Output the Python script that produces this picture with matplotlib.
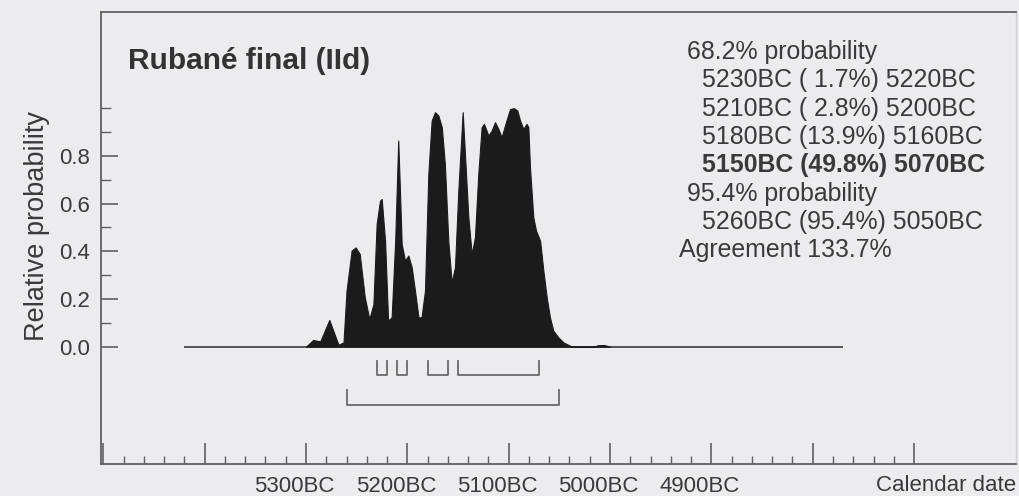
import matplotlib
matplotlib.use("Agg")
import matplotlib.pyplot as plt
import matplotlib.transforms as mtransforms
from matplotlib.ticker import FixedLocator, FixedFormatter

plt.rcParams['font.family'] = ['Liberation Sans', 'DejaVu Sans']

# ---------------- data ----------------
title = "Rubané final (IId)"
years_bc = [5300, 5299, 5293, 5286, 5277, 5268, 5263, 5260, 5255, 5251, 5247, 5242,
            5237.5, 5233.5, 5230.3, 5227, 5225.3, 5222, 5219, 5215.5, 5212, 5209,
            5207.3, 5205.6, 5202.3, 5199, 5195.7, 5192.5, 5189, 5186, 5182.6, 5179.3,
            5176, 5172.7, 5169.4, 5166, 5163, 5159.6, 5156.3, 5153, 5149.7, 5145.4,
            5143, 5139.8, 5136.5, 5133.3, 5130, 5126.7, 5124.4, 5120, 5116.8, 5113.5,
            5110.2, 5107, 5103.7, 5098.7, 5094.8, 5091.5, 5088.8, 5085.6, 5082.3,
            5080.6, 5079, 5075.7, 5073, 5069, 5065.8, 5062.5, 5059.3, 5056, 5051,
            5046, 5039.5, 5038, 5016, 5012, 5006, 5000]
probability = [0.0, 0.004, 0.028, 0.022, 0.112, 0.008, 0.018, 0.235, 0.403, 0.416, 0.389, 0.207,
               0.116, 0.179, 0.514, 0.612, 0.619, 0.444, 0.109, 0.123, 0.444, 0.864,
               0.654, 0.430, 0.361, 0.382, 0.333, 0.235, 0.123, 0.123, 0.235, 0.724,
               0.948, 0.983, 0.969, 0.920, 0.766, 0.444, 0.270, 0.333, 0.654, 0.983,
               0.794, 0.542, 0.389, 0.458, 0.724, 0.920, 0.934, 0.885, 0.906, 0.941,
               0.913, 0.878, 0.927, 0.996, 1.0, 0.99, 0.948, 0.913, 0.934,
               0.920, 0.752, 0.542, 0.486, 0.444, 0.319, 0.207, 0.123, 0.067, 0.039,
               0.018, 0.004, 0.0, 0.0, 0.006, 0.007, 0.0]
plot_range_bc = [5420, 4770]

ranges_68 = [(5230, 5220), (5210, 5200), (5180, 5160), (5150, 5070)]
pct_68 = [1.7, 2.8, 13.9, 49.8]
ranges_95 = [(5260, 5050)]
pct_95 = [95.4]
agreement = 133.7

x_major = [5500, 5400, 5300, 5200, 5100, 5000, 4900, 4800, 4700]
x_labels = ["", "", "5300BC", "5200BC", "5100BC", "5000BC", "4900BC", "", ""]
y_major = [0.0, 0.2, 0.4, 0.6, 0.8]
y_labels = ["0.0", "0.2", "0.4", "0.6", "0.8"]
y_minor = [0.1, 0.3, 0.5, 0.7, 0.9, 1.0]

# ---------------- style ----------------
W, H, DPI = 1020, 496, 100
bg = "#ececef"
ink = "#3a3a3a"
spine_c = "#606060"
fill_c = "#1b1b1b"

fig = plt.figure(figsize=(W / DPI, H / DPI), dpi=DPI, facecolor=bg)
L, R, T, B = 101, 1016, 12, 464
ax = fig.add_axes([L / W, 1 - B / H, (R - L) / W, (B - T) / H], facecolor=bg)

ax.set_xlim(5502.3, 4599.4)
ax.set_ylim(-0.492, 1.403)

# baseline and density
ax.plot(plot_range_bc, [0, 0], color="#555555", lw=1.4, solid_capstyle="butt", zorder=2)
ax.fill_between(years_bc, probability, 0, color=fill_c, lw=0.8, edgecolor=fill_c, zorder=3)

# range brackets
br_c = "#6a6a6a"
for (a, b) in ranges_68:
    ax.plot([a, a, b, b], [-0.060, -0.119, -0.119, -0.060], color=br_c, lw=1.3, zorder=2)
for (a, b) in ranges_95:
    ax.plot([a, a, b, b], [-0.182, -0.244, -0.244, -0.182], color=br_c, lw=1.3, zorder=2)

# ticks
ax.xaxis.set_major_locator(FixedLocator(x_major))
ax.xaxis.set_major_formatter(FixedFormatter(x_labels))
ax.xaxis.set_minor_locator(FixedLocator([y for y in range(5500, 4690, -20) if y % 100 != 0]))
ax.yaxis.set_major_locator(FixedLocator(y_major))
ax.yaxis.set_major_formatter(FixedFormatter(y_labels))
ax.yaxis.set_minor_locator(FixedLocator(y_minor))

ax.tick_params(axis="x", which="major", direction="in", length=15, width=1.2,
               color=spine_c, labelsize=16, labelcolor=ink, pad=9)
ax.tick_params(axis="x", which="minor", direction="in", length=5.5, width=1.0, color=spine_c)
ax.tick_params(axis="y", which="major", direction="in", length=12, width=1.2,
               color=spine_c, labelsize=16, labelcolor=ink, pad=8)
ax.tick_params(axis="y", which="minor", direction="in", length=7, width=1.0, color=spine_c)

for s in ["left", "bottom", "top"]:
    ax.spines[s].set_color(spine_c)
    ax.spines[s].set_linewidth(1.3)
ax.spines["right"].set_color("#d0d0d4")
ax.spines["right"].set_linewidth(1.0)

offset = mtransforms.ScaledTranslation(-11.5 / DPI, 0, fig.dpi_scale_trans)
for lab in ax.get_xticklabels():
    lab.set_transform(lab.get_transform() + offset)

# labels
def fx(px):
    return px / W

def fy(py):
    return 1 - py / H

fig.text(fx(37), fy(226), "Relative probability", rotation=90, ha="center", va="center",
         fontsize=19.5, color=ink)
fig.text(fx(1016), fy(491), "Calendar date", ha="right", va="baseline", fontsize=16, color=ink)
fig.text(fx(128), fy(69.3), title, ha="left", va="baseline", fontsize=21.5,
         fontweight="bold", color="#333333")

lines = ["68.2% probability"]
for (a, b), p in zip(ranges_68, pct_68):
    lines.append(f"{a}BC ({p:4.1f}%) {b}BC")
lines.append("95.4% probability")
for (a, b), p in zip(ranges_95, pct_95):
    lines.append(f"{a}BC ({p:4.1f}%) {b}BC")
lines.append(f"Agreement {agreement}%")
x_starts = [686.7, 701.7, 701.7, 701.7, 701.7, 686.7, 701.7, 679.3]
baselines = [58.9, 87.3, 115.6, 143.9, 172.3, 200.6, 229.0, 257.3]
bold_idx = 1 + pct_68.index(max(pct_68))
for i, (txt, xs, yb) in enumerate(zip(lines, x_starts, baselines)):
    fig.text(fx(xs), fy(yb), txt, ha="left", va="baseline", fontsize=17.9,
             fontweight="bold" if i == bold_idx else "normal", color=ink)

fig.savefig("out.png", dpi=DPI, facecolor=bg)
